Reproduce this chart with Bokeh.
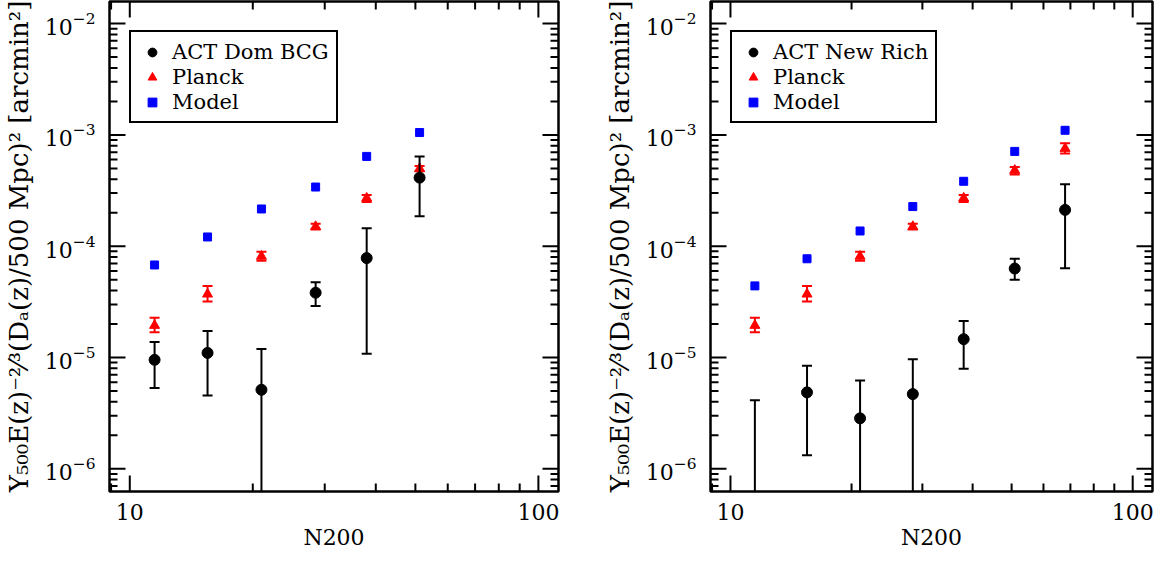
import math
from bokeh.plotting import figure
from bokeh.models import (Range1d, FixedTicker, Legend, LegendItem,
                          ColumnDataSource, BasicTickFormatter)
from bokeh.layouts import row
from bokeh.embed import file_html
from bokeh.resources import INLINE

# ---------------- data ----------------
n200_left = [11.5, 15.5, 21.0, 28.5, 38.0, 51.2]
act_dom = [9.53e-6, 1.10e-5, 5.13e-6, 3.82e-5, 7.82e-5, 4.13e-4]
act_dom_hi = [1.38e-5, 1.73e-5, 1.19e-5, 4.74e-5, 1.45e-4, 6.41e-4]
act_dom_lo = [5.32e-6, 4.55e-6, 1e-8, 2.90e-5, 1.08e-5, 1.86e-4]
planck_left = [1.94e-5, 3.71e-5, 8.11e-5, 1.50e-4, 2.70e-4, 4.98e-4]
planck_left_hi = [2.28e-5, 4.40e-5, 8.93e-5, 1.59e-4, 2.88e-4, 5.25e-4]
planck_left_lo = [1.69e-5, 3.19e-5, 7.41e-5, 1.41e-4, 2.50e-4, 4.72e-4]
model_left = [6.78e-5, 1.21e-4, 2.16e-4, 3.40e-4, 6.41e-4, 1.05e-3]

n200_right = [11.5, 15.5, 21.0, 28.4, 38.0, 50.9, 67.9]
act_new = [-4e-7, 4.86e-6, 2.84e-6, 4.69e-6, 1.46e-5, 6.30e-5, 2.12e-4]
act_new_hi = [4.13e-6, 8.45e-6, 6.22e-6, 9.66e-6, 2.13e-5, 7.71e-5, 3.61e-4]
act_new_lo = [1e-8, 1.32e-6, 1e-8, 1e-8, 7.91e-6, 5.00e-5, 6.34e-5]
planck_right = [1.94e-5, 3.71e-5, 8.11e-5, 1.50e-4, 2.70e-4, 4.80e-4, 7.55e-4]
planck_right_hi = [2.28e-5, 4.40e-5, 8.93e-5, 1.59e-4, 2.88e-4, 5.16e-4, 8.40e-4]
planck_right_lo = [1.69e-5, 3.19e-5, 7.41e-5, 1.41e-4, 2.50e-4, 4.40e-4, 6.81e-4]
model_right = [4.40e-5, 7.71e-5, 1.37e-4, 2.27e-4, 3.83e-4, 7.11e-4, 1.10e-3]

x_major = [10, 100]
x_minor = [9, 20, 30, 40, 50, 60, 70, 80, 90]
y_major = [1e-6, 1e-5, 1e-4, 1e-3, 1e-2]
y_minor = [m * 10.0 ** e for e in range(-7, -1) for m in range(2, 10)]

X_RANGE = (8.92, 112.0)
Y_RANGE = (6.25e-7, 0.0158)

x_label = "N200"
y_label = "Y₅₀₀E(z)⁻²⁄³(Dₐ(z)/500 Mpc)² [arcmin²]"

FONT = "DejaVu Serif"
FIG_H = 553
BORDER_TOP = 1
BORDER_BOTTOM = 62
FRAME_H = FIG_H - BORDER_TOP - BORDER_BOTTOM
LEGEND_H = 92


def make_panel(xs, act, act_hi, act_lo, pl, pl_hi, pl_lo, model, act_name,
               frame_w, border_r):
    p = figure(frame_width=frame_w, height=FIG_H,
               x_axis_type="log", y_axis_type="log",
               x_range=Range1d(*X_RANGE), y_range=Range1d(*Y_RANGE),
               output_backend="svg", toolbar_location=None,
               min_border_left=104, min_border_right=border_r,
               min_border_top=BORDER_TOP, min_border_bottom=BORDER_BOTTOM)
    p.grid.visible = False
    p.outline_line_color = "black"
    p.outline_line_width = 2.5
    p.outline_line_alpha = 1.0
    p.background_fill_color = "white"
    p.border_fill_color = "white"

    def style(ax):
        ax.axis_line_color = None
        ax.major_tick_line_color = None
        ax.minor_tick_line_color = None
        ax.major_tick_in = 0
        ax.major_tick_out = 0
        ax.minor_tick_in = 0
        ax.minor_tick_out = 0
        ax.major_label_text_font = FONT
        ax.major_label_text_font_size = "22px"
        ax.major_label_text_color = "black"
        ax.axis_label_text_font = FONT
        ax.axis_label_text_font_style = "normal"
        ax.axis_label_text_color = "black"

    xa = p.xaxis[0]
    xa.ticker = FixedTicker(ticks=x_major, minor_ticks=x_minor)
    xa.formatter = BasicTickFormatter()
    style(xa)
    xa.major_label_standoff = 12
    xa.axis_label = x_label
    xa.axis_label_text_font_size = "22px"
    xa.axis_label_standoff = 2

    ya = p.yaxis[0]
    ya.ticker = FixedTicker(ticks=y_major, minor_ticks=y_minor)
    style(ya)
    ya.major_label_standoff = 14
    ya.axis_label = y_label
    ya.axis_label_text_font_size = "26px"
    ya.axis_label_standoff = 8

    # inward tick marks on all four sides (half of each dash is clipped by the frame)
    tick = dict(marker="dash", line_color="black", line_width=2)
    for vals, size in ((x_major, 32), (x_minor, 16)):
        p.scatter(vals, [Y_RANGE[0]] * len(vals), angle=math.pi / 2, size=size, **tick)
        p.scatter(vals, [Y_RANGE[1]] * len(vals), angle=math.pi / 2, size=size, **tick)
    for vals, size in ((y_major, 32), (y_minor, 16)):
        p.scatter([X_RANGE[0]] * len(vals), vals, size=size, **tick)
        p.scatter([X_RANGE[1]] * len(vals), vals, size=size, **tick)

    src_m = ColumnDataSource(dict(x=xs, y=model))
    src_p = ColumnDataSource(dict(x=xs, y=pl, hi=pl_hi, lo=pl_lo))
    src_a = ColumnDataSource(dict(x=xs, y=act, hi=act_hi, lo=act_lo))

    r_m = p.scatter("x", "y", source=src_m, marker="square", size=8,
                    fill_color="blue", line_color="blue")

    p.segment("x", "lo", "x", "hi", source=src_p, line_color="red", line_width=2)
    p.scatter("x", "hi", source=src_p, marker="dash", size=10, line_color="red", line_width=2)
    p.scatter("x", "lo", source=src_p, marker="dash", size=10, line_color="red", line_width=2)
    r_p = p.scatter("x", "y", source=src_p, marker="triangle", size=10,
                    fill_color="red", line_color="red")

    p.segment("x", "lo", "x", "hi", source=src_a, line_color="black", line_width=2)
    p.scatter("x", "hi", source=src_a, marker="dash", size=10, line_color="black", line_width=2)
    p.scatter("x", "lo", source=src_a, marker="dash", size=10, line_color="black", line_width=2)
    r_a = p.scatter("x", "y", source=src_a, marker="circle", size=11,
                    fill_color="black", line_color="black")

    legend = Legend(items=[LegendItem(label=act_name, renderers=[r_a]),
                           LegendItem(label="Planck", renderers=[r_p]),
                           LegendItem(label="Model", renderers=[r_m])],
                    location=(20, FRAME_H - 30 - LEGEND_H))
    legend.border_line_color = "black"
    legend.border_line_width = 2
    legend.border_line_alpha = 1.0
    legend.background_fill_color = "white"
    legend.background_fill_alpha = 1.0
    legend.label_text_font = FONT
    legend.label_text_font_size = "21px"
    legend.label_text_color = "black"
    legend.padding = 7
    legend.spacing = 0
    legend.margin = 0
    legend.label_height = 25
    legend.glyph_height = 22
    legend.glyph_width = 28
    legend.label_standoff = 6
    p.add_layout(legend, "center")
    return p


p1 = make_panel(n200_left, act_dom, act_dom_hi, act_dom_lo,
                planck_left, planck_left_hi, planck_left_lo, model_left,
                "ACT Dom BCG", 449, 43)
p2 = make_panel(n200_right, act_new, act_new_hi, act_new_lo,
                planck_right, planck_right_hi, planck_right_lo, model_right,
                "ACT New Rich", 442, 8)

layout = row(p1, p2)
open("out.html", "w").write(file_html(layout, INLINE))
